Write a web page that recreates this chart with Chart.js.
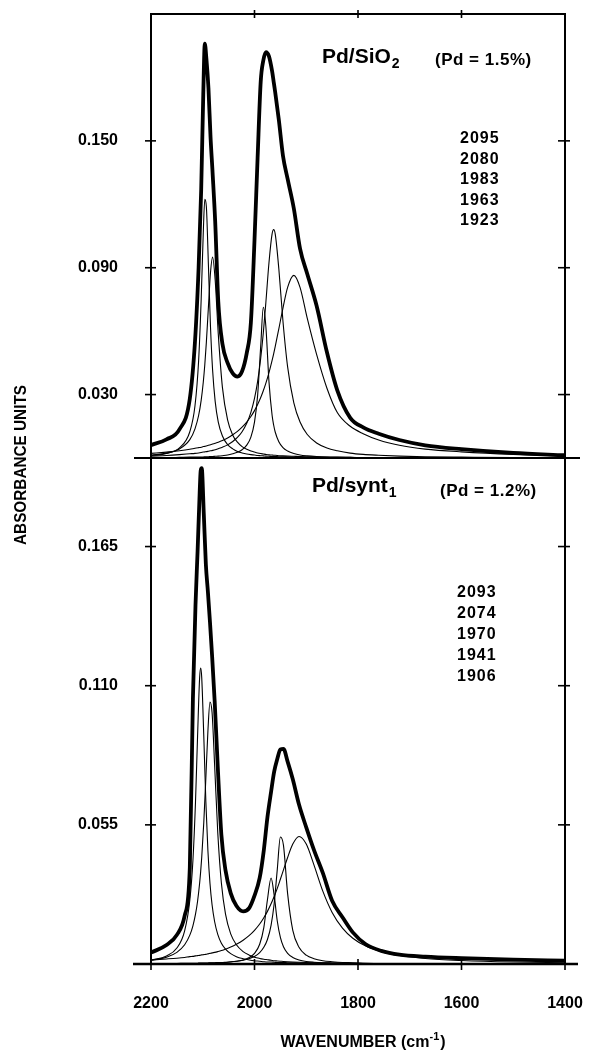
<!DOCTYPE html>
<html>
<head>
<meta charset="utf-8">
<title>CO on Pd - deconvoluted IR bands</title>
<script src="https://cdn.jsdelivr.net/npm/chart.js@4.4.1/dist/chart.umd.min.js"></script>
<style>
  html, body { margin: 0; padding: 0; background: #fff; }
  canvas { display: block; }
</style>
</head>
<body>
<canvas id="spectra" width="595" height="1051"></canvas>
<script>
// ---- Pd/SiO2 panel (wavenumber grid in cm-1, absorbance per curve) ----
const sio2Wn = [2200, 2170, 2145, 2125, 2115, 2108, 2103, 2099, 2096, 2093, 2089, 2085, 2081, 2076, 2070, 2062,
  2052, 2042, 2033, 2024, 2015, 2007, 2000, 1994, 1988, 1983, 1978, 1972, 1966, 1963, 1960, 1953, 1945, 1936,
  1924, 1912, 1898, 1880, 1860, 1840, 1815, 1790, 1760, 1720, 1670, 1600, 1500, 1400];
const sio2Total = [0.0061, 0.0088, 0.0135, 0.028, 0.055, 0.090, 0.127, 0.172, 0.196, 0.189, 0.175, 0.152, 0.135,
  0.112, 0.074, 0.054, 0.045, 0.040, 0.0385, 0.041, 0.0496, 0.064, 0.103, 0.142, 0.178, 0.188, 0.192, 0.190,
  0.183, 0.178, 0.173, 0.160, 0.143, 0.132, 0.118, 0.099, 0.087, 0.072, 0.050, 0.032, 0.019, 0.0145, 0.0115,
  0.0085, 0.0060, 0.0042, 0.0024, 0.0013];
const sio2Band2095 = [0.0011, 0.0022, 0.0048, 0.0124, 0.0247, 0.0459, 0.0753, 0.1065, 0.1223, 0.1188, 0.0908,
  0.0618, 0.0417, 0.0268, 0.0170, 0.0104, 0.0063, 0.0043, 0.0031, 0.0024, 0.0019, 0.0016, 0.0014, 0.0012, 0.0011,
  0.0010, 0.0009, 0.0008, 0.0007, 0.0007, 0.0007, 0.0006, 0.0006, 0.0005, 0.0004, 0.0004, 0.0003, 0.0003, 0.0002,
  0.0002, 0.0002, 0.0001, 0.0001, 0.0001, 0.0001, 0.0001, 0.0000, 0.0000];
const sio2Band2080 = [0.0013, 0.0023, 0.0043, 0.0087, 0.0138, 0.0201, 0.0274, 0.0358, 0.0442, 0.0548, 0.0716,
  0.0878, 0.0950, 0.0842, 0.0587, 0.0334, 0.0180, 0.0108, 0.0075, 0.0054, 0.0041, 0.0033, 0.0028, 0.0024, 0.0021,
  0.0019, 0.0017, 0.0015, 0.0014, 0.0013, 0.0013, 0.0011, 0.0010, 0.0009, 0.0008, 0.0007, 0.0006, 0.0005, 0.0004,
  0.0003, 0.0003, 0.0002, 0.0002, 0.0001, 0.0001, 0.0001, 0.0001, 0.0000];
const sio2Band1983 = [0.0002, 0.0002, 0.0003, 0.0004, 0.0004, 0.0005, 0.0005, 0.0005, 0.0006, 0.0006, 0.0006,
  0.0007, 0.0007, 0.0008, 0.0009, 0.0011, 0.0014, 0.0020, 0.0027, 0.0039, 0.0061, 0.0099, 0.0170, 0.0295, 0.0529,
  0.0713, 0.0621, 0.0360, 0.0202, 0.0156, 0.0123, 0.0077, 0.0049, 0.0033, 0.0021, 0.0014, 0.0010, 0.0007, 0.0005,
  0.0004, 0.0003, 0.0002, 0.0002, 0.0001, 0.0001, 0.0001, 0.0000, 0.0000];
const sio2Band1963 = [0.0009, 0.0012, 0.0016, 0.0020, 0.0022, 0.0024, 0.0026, 0.0028, 0.0029, 0.0030, 0.0032,
  0.0034, 0.0036, 0.0039, 0.0044, 0.0051, 0.0062, 0.0078, 0.0097, 0.0124, 0.0164, 0.0216, 0.0282, 0.0361, 0.0472,
  0.0591, 0.0737, 0.0925, 0.1060, 0.1080, 0.1060, 0.0895, 0.0647, 0.0431, 0.0261, 0.0170, 0.0111, 0.0071, 0.0047,
  0.0034, 0.0023, 0.0017, 0.0013, 0.0009, 0.0006, 0.0004, 0.0002, 0.0002];
const sio2Band1923 = [0.0022, 0.0028, 0.0034, 0.0041, 0.0046, 0.0049, 0.0051, 0.0054, 0.0055, 0.0057, 0.0060,
  0.0063, 0.0066, 0.0070, 0.0075, 0.0083, 0.0095, 0.0110, 0.0126, 0.0146, 0.0170, 0.0196, 0.0224, 0.0253, 0.0286,
  0.0318, 0.0354, 0.0404, 0.0462, 0.0493, 0.0527, 0.0611, 0.0709, 0.0807, 0.0864, 0.0807, 0.0660, 0.0490, 0.0330,
  0.0215, 0.0150, 0.0115, 0.0085, 0.0060, 0.0042, 0.0029, 0.0017, 0.0010];

// ---- Pd/synt1 panel ----
const syntWn = [2200, 2170, 2150, 2135, 2125, 2119, 2114, 2110, 2106, 2104, 2102, 2098, 2094, 2090, 2086, 2082,
  2077, 2071, 2064, 2056, 2046, 2035, 2022, 2010, 2000, 1990, 1982, 1975, 1968, 1962, 1956, 1950, 1944, 1936,
  1926, 1914, 1900, 1885, 1868, 1850, 1830, 1810, 1785, 1755, 1720, 1670, 1600, 1500, 1400];
const syntTotal = [0.0045, 0.0075, 0.0115, 0.019, 0.038, 0.105, 0.142, 0.163, 0.186, 0.195, 0.196, 0.178, 0.158,
  0.147, 0.135, 0.122, 0.104, 0.078, 0.051, 0.037, 0.028, 0.023, 0.0208, 0.0222, 0.027, 0.034, 0.045, 0.058,
  0.068, 0.076, 0.081, 0.0848, 0.0850, 0.080, 0.073, 0.063, 0.054, 0.045, 0.036, 0.025, 0.0185, 0.0125, 0.0078,
  0.0052, 0.0037, 0.0029, 0.0023, 0.0017, 0.0013];
const syntBand2093 = [0.0015, 0.0032, 0.0063, 0.0131, 0.0252, 0.0409, 0.0641, 0.0901, 0.1133, 0.1170, 0.1133,
  0.0901, 0.0641, 0.0447, 0.0318, 0.0234, 0.0167, 0.0117, 0.0082, 0.0059, 0.0041, 0.0029, 0.0021, 0.0016, 0.0013,
  0.0011, 0.0009, 0.0008, 0.0008, 0.0007, 0.0006, 0.0006, 0.0006, 0.0005, 0.0005, 0.0004, 0.0003, 0.0003, 0.0003,
  0.0002, 0.0002, 0.0002, 0.0001, 0.0001, 0.0001, 0.0001, 0.0001, 0.0000, 0.0000];
const syntBand2074 = [0.0015, 0.0027, 0.0046, 0.0076, 0.0114, 0.0151, 0.0197, 0.0248, 0.0320, 0.0366, 0.0421,
  0.0559, 0.0736, 0.0922, 0.1035, 0.0994, 0.0784, 0.0520, 0.0320, 0.0197, 0.0119, 0.0076, 0.0049, 0.0035, 0.0027,
  0.0022, 0.0019, 0.0017, 0.0015, 0.0013, 0.0012, 0.0011, 0.0010, 0.0009, 0.0008, 0.0007, 0.0006, 0.0005, 0.0004,
  0.0004, 0.0003, 0.0003, 0.0002, 0.0002, 0.0002, 0.0001, 0.0001, 0.0001, 0.0000];
const syntBand1970 = [0.0001, 0.0001, 0.0001, 0.0002, 0.0002, 0.0002, 0.0002, 0.0002, 0.0003, 0.0003, 0.0003,
  0.0003, 0.0003, 0.0003, 0.0004, 0.0004, 0.0004, 0.0005, 0.0005, 0.0006, 0.0008, 0.0011, 0.0016, 0.0026, 0.0042,
  0.0078, 0.0144, 0.0254, 0.0340, 0.0272, 0.0170, 0.0105, 0.0068, 0.0042, 0.0026, 0.0016, 0.0010, 0.0007, 0.0005,
  0.0004, 0.0003, 0.0002, 0.0002, 0.0001, 0.0001, 0.0001, 0.0000, 0.0000, 0.0000];
const syntBand1941 = [0.0001, 0.0002, 0.0002, 0.0003, 0.0003, 0.0003, 0.0003, 0.0003, 0.0004, 0.0004, 0.0004,
  0.0004, 0.0004, 0.0004, 0.0005, 0.0005, 0.0005, 0.0006, 0.0006, 0.0007, 0.0009, 0.0011, 0.0015, 0.0022, 0.0030,
  0.0045, 0.0066, 0.0097, 0.0153, 0.0238, 0.0373, 0.0502, 0.0469, 0.0278, 0.0133, 0.0066, 0.0035, 0.0021, 0.0013,
  0.0009, 0.0006, 0.0005, 0.0003, 0.0002, 0.0002, 0.0001, 0.0001, 0.0000, 0.0000];
const syntBand1906 = [0.0016, 0.0020, 0.0023, 0.0026, 0.0029, 0.0030, 0.0032, 0.0033, 0.0034, 0.0035, 0.0036,
  0.0037, 0.0038, 0.0040, 0.0042, 0.0044, 0.0046, 0.0049, 0.0053, 0.0059, 0.0067, 0.0078, 0.0094, 0.0113, 0.0133,
  0.0158, 0.0183, 0.0208, 0.0238, 0.0267, 0.0299, 0.0335, 0.0372, 0.0421, 0.0474, 0.0504, 0.0474, 0.0391, 0.0288,
  0.0204, 0.0142, 0.0102, 0.0071, 0.0049, 0.0034, 0.0022, 0.0014, 0.0008, 0.0005];

// axis ticks and annotations
const wnTicks = [2200, 2000, 1800, 1600, 1400];
const sio2Ticks = [0.030, 0.090, 0.150];
const syntTicks = [0.055, 0.110, 0.165];
const sio2Bands = ['2095', '2080', '1983', '1963', '1923'];
const syntBands = ['2093', '2074', '1970', '1941', '1906'];

const FONT = 'Arial, "Liberation Sans", sans-serif';
const INK = '#000';

function toPoints(wn, ys) {
  return wn.map((x, i) => ({ x: x, y: ys[i] }));
}

function curve(wn, ys, axisId, thick) {
  return {
    data: toPoints(wn, ys),
    yAxisID: axisId,
    borderColor: INK,
    borderWidth: thick ? 3.8 : 1.1,
    borderJoinStyle: 'round',
    borderCapStyle: 'round',
    pointRadius: 0,
    fill: false,
    cubicInterpolationMode: 'monotone'
  };
}

const datasets = [
  curve(sio2Wn, sio2Band2095, 'ySio2', false),
  curve(sio2Wn, sio2Band2080, 'ySio2', false),
  curve(sio2Wn, sio2Band1983, 'ySio2', false),
  curve(sio2Wn, sio2Band1963, 'ySio2', false),
  curve(sio2Wn, sio2Band1923, 'ySio2', false),
  curve(sio2Wn, sio2Total, 'ySio2', true),
  curve(syntWn, syntBand2093, 'ySynt', false),
  curve(syntWn, syntBand2074, 'ySynt', false),
  curve(syntWn, syntBand1970, 'ySynt', false),
  curve(syntWn, syntBand1941, 'ySynt', false),
  curve(syntWn, syntBand1906, 'ySynt', false),
  curve(syntWn, syntTotal, 'ySynt', true)
];

function seg(ctx, x1, y1, x2, y2) {
  ctx.beginPath();
  ctx.moveTo(x1, y1);
  ctx.lineTo(x2, y2);
  ctx.stroke();
}

// text with a smaller lowered / raised piece after it
function textWithIndex(ctx, base, idx, x, y, size, idxSize, shift) {
  ctx.font = 'bold ' + size + 'px ' + FONT;
  ctx.fillText(base, x, y);
  const w = ctx.measureText(base).width;
  ctx.font = 'bold ' + idxSize + 'px ' + FONT;
  ctx.fillText(idx, x + w + 1, y + shift);
  return w + 1 + ctx.measureText(idx).width;
}

// keep the label padding from pushing the plot area around
function noLabelPadding(s) {
  s.paddingTop = 0;
  s.paddingBottom = 0;
  s.paddingLeft = 0;
  s.paddingRight = 0;
}

// frame, crossing ticks and all annotation text
const framePlugin = {
  id: 'frame',
  afterDraw(chart) {
    const ctx = chart.ctx;
    const a = chart.chartArea;
    const xs = chart.scales.x;
    const yTop = chart.scales.ySio2;
    const yBot = chart.scales.ySynt;
    const mid = yTop.bottom;

    ctx.save();
    ctx.strokeStyle = INK;
    ctx.fillStyle = INK;
    ctx.lineCap = 'butt';

    ctx.lineWidth = 2;
    ctx.beginPath();
    ctx.moveTo(a.left, a.bottom);
    ctx.lineTo(a.left, a.top);
    ctx.lineTo(a.right, a.top);
    ctx.lineTo(a.right, a.bottom);
    ctx.stroke();

    // panel divider and wavenumber axis run past the frame
    seg(ctx, a.left - 17, mid, a.right + 15, mid);
    ctx.lineWidth = 2.5;
    seg(ctx, a.left - 18, a.bottom, a.right + 13, a.bottom);

    ctx.lineWidth = 1.6;
    wnTicks.forEach(v => {
      const px = xs.getPixelForValue(v);
      seg(ctx, px, a.bottom - 5, px, a.bottom + 6);
    });
    wnTicks.slice(1, 4).forEach(v => {
      const px = xs.getPixelForValue(v);
      seg(ctx, px, a.top - 4, px, a.top + 4);
    });
    [[yTop, sio2Ticks], [yBot, syntTicks]].forEach(([sc, ticks]) => {
      ticks.forEach(v => {
        const py = sc.getPixelForValue(v);
        seg(ctx, a.left - 6, py, a.left + 5, py);
        seg(ctx, a.right - 7, py, a.right + 5, py);
      });
    });

    // panel titles
    ctx.textAlign = 'left';
    ctx.textBaseline = 'alphabetic';
    textWithIndex(ctx, 'Pd/SiO', '2', 322, 63, 21, 14, 5);
    ctx.font = 'bold 17px ' + FONT;
    ctx.letterSpacing = '0.5px';
    ctx.fillText('(Pd = 1.5%)', 435, 65);
    ctx.letterSpacing = '0px';
    textWithIndex(ctx, 'Pd/synt', '1', 312, 492, 21, 14, 5);
    ctx.font = 'bold 17px ' + FONT;
    ctx.letterSpacing = '0.5px';
    ctx.fillText('(Pd = 1.2%)', 440, 496);

    // band positions
    ctx.font = 'bold 16px ' + FONT;
    ctx.letterSpacing = '1px';
    sio2Bands.forEach((t, i) => ctx.fillText(t, 460, 143 + i * 20.5));
    syntBands.forEach((t, i) => ctx.fillText(t, 457, 597 + i * 21));
    ctx.letterSpacing = '0px';

    // y title, narrowed along its length
    ctx.save();
    ctx.translate(21, 465);
    ctx.rotate(-Math.PI / 2);
    ctx.textAlign = 'center';
    ctx.textBaseline = 'middle';
    ctx.font = 'bold 17px ' + FONT;
    const yTitle = 'ABSORBANCE UNITS';
    ctx.scale(160 / ctx.measureText(yTitle).width, 1);
    ctx.fillText(yTitle, 0, 0);
    ctx.restore();

    // x title with superscript
    ctx.font = 'bold 16px ' + FONT;
    const t1 = 'WAVENUMBER (cm';
    const w1 = ctx.measureText(t1).width;
    const w3 = ctx.measureText(')').width;
    ctx.font = 'bold 11px ' + FONT;
    const w2 = ctx.measureText('-1').width + 1;
    const tx = 363 - (w1 + w2 + w3) / 2;
    ctx.font = 'bold 16px ' + FONT;
    ctx.fillText(t1, tx, 1047);
    ctx.font = 'bold 11px ' + FONT;
    ctx.fillText('-1', tx + w1, 1040);
    ctx.font = 'bold 16px ' + FONT;
    ctx.fillText(')', tx + w1 + w2, 1047);

    ctx.restore();
  }
};

const yTickFont = { family: FONT, size: 16, weight: 'bold' };

new Chart(document.getElementById('spectra'), {
  type: 'line',
  data: { datasets: datasets },
  options: {
    responsive: false,
    animation: false,
    events: [],
    layout: { padding: { top: 14, right: 30, left: 0, bottom: 0 } },
    plugins: { legend: { display: false }, tooltip: { enabled: false } },
    scales: {
      x: {
        type: 'linear',
        position: 'bottom',
        reverse: true,
        min: 1400,
        max: 2200,
        afterBuildTicks: s => { s.ticks = wnTicks.map(v => ({ value: v })); },
        afterFit: s => { s.height = 87; noLabelPadding(s); },
        grid: { display: false, drawTicks: false },
        border: { display: false },
        ticks: {
          color: INK,
          padding: 30,
          maxRotation: 0,
          autoSkip: false,
          font: { family: FONT, size: 16, weight: 'bold' },
          callback: v => String(v)
        }
      },
      ySynt: {
        type: 'linear',
        position: 'left',
        stack: 'panels',
        stackWeight: 506,
        min: 0,
        max: 0.2,
        afterBuildTicks: s => { s.ticks = syntTicks.map(v => ({ value: v })); },
        afterFit: s => { s.width = 151; noLabelPadding(s); },
        grid: { display: false, drawTicks: false },
        border: { display: false },
        ticks: { color: INK, padding: 33, font: yTickFont, callback: v => v.toFixed(3) }
      },
      ySio2: {
        type: 'linear',
        position: 'left',
        stack: 'panels',
        stackWeight: 444,
        min: 0,
        max: 0.21,
        afterBuildTicks: s => { s.ticks = sio2Ticks.map(v => ({ value: v })); },
        afterFit: s => { s.width = 151; noLabelPadding(s); },
        grid: { display: false, drawTicks: false },
        border: { display: false },
        ticks: { color: INK, padding: 33, font: yTickFont, callback: v => v.toFixed(3) }
      }
    }
  },
  plugins: [framePlugin]
});
</script>
</body>
</html>
